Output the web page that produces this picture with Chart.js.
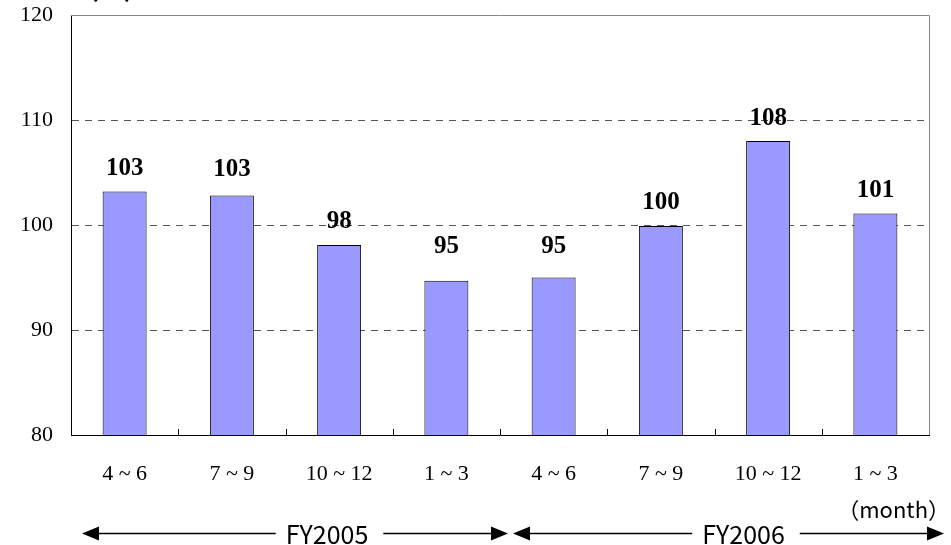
<!DOCTYPE html>
<html>
<head>
<meta charset="utf-8">
<script src="https://cdn.jsdelivr.net/npm/chart.js@4"></script>
<style>
  html, body { margin: 0; padding: 0; background: #fff; }
  #wrap { width: 951px; height: 545px; }
</style>
</head>
<body>
<div id="wrap"><canvas id="chart"></canvas></div>
<script>
var quarters = ['4 ~ 6', '7 ~ 9', '10 ~ 12', '1 ~ 3', '4 ~ 6', '7 ~ 9', '10 ~ 12', '1 ~ 3'];
var values = [103.2, 102.8, 98.1, 94.7, 95.0, 99.9, 108.0, 101.1];
var valueLabels = ['103', '103', '98', '95', '95', '100', '108', '101'];
var fiscalYears = ['FY2005', 'FY2006'];
var unitLabel = '\uff08month\uff09';
var yTitle = '(%)';

var serif = '"Liberation Serif", "Times New Roman", serif';
var gothic = '"Noto Sans CJK JP", "Noto Sans", sans-serif';

// how far above each bar the value label sits
var labelLift = [23, 26, 23, 34, 31, 24, 22, 23];
// the year captions are not centred on their arrows
var captionShift = [32, 15];

var extras = {
    id: 'extras',
    afterDatasetsDraw: function(chart) {
        var ctx = chart.ctx;
        var area = chart.chartArea;
        var step = (area.right - area.left) / quarters.length;

        ctx.save();
        // top and right frame
        ctx.strokeStyle = '#888';
        ctx.lineWidth = 1;
        ctx.beginPath();
        ctx.moveTo(area.left, area.top + 0.5);
        ctx.lineTo(area.right + 0.5, area.top + 0.5);
        ctx.lineTo(area.right + 0.5, area.bottom);
        ctx.stroke();

        // little inner tick marks between categories
        ctx.strokeStyle = '#000';
        ctx.beginPath();
        for (var i = 1; i < quarters.length; i++) {
            var tx = Math.round(area.left + step * i) + 0.5;
            ctx.moveTo(tx, area.bottom);
            ctx.lineTo(tx, area.bottom - 6);
        }
        ctx.stroke();

        // value labels
        var meta = chart.getDatasetMeta(0);
        ctx.fillStyle = '#000';
        ctx.font = 'bold 25px ' + serif;
        ctx.textAlign = 'center';
        ctx.textBaseline = 'middle';
        meta.data.forEach(function(bar, k) {
            ctx.fillText(valueLabels[k], bar.x, bar.y - labelLift[k]);
        });

        // unit label at top, mostly cut off
        ctx.font = 'bold 26px ' + gothic;
        ctx.textAlign = 'left';
        ctx.textBaseline = 'alphabetic';
        ctx.fillText(yTitle, area.left + 18, -3);

        // fiscal year arrows
        var mid = area.left + step * 4;
        var spans = [[area.left + 11, mid + 8], [mid + 13, area.right + 15]];
        var ay = 533.5;
        ctx.font = '25px ' + gothic;
        ctx.textBaseline = 'middle';
        ctx.textAlign = 'center';
        spans.forEach(function(s, k) {
            var cx = (s[0] + s[1]) / 2 + captionShift[k];
            var half = ctx.measureText(fiscalYears[k]).width / 2;
            ctx.beginPath();
            ctx.moveTo(s[0] + 10, ay);
            ctx.lineTo(cx - half - 10, ay);
            ctx.moveTo(cx + half + 15, ay);
            ctx.lineTo(s[1] - 10, ay);
            ctx.lineWidth = 1.5;
            ctx.stroke();
            ctx.beginPath();
            ctx.moveTo(s[0], ay);
            ctx.lineTo(s[0] + 17, ay - 7);
            ctx.lineTo(s[0] + 17, ay + 7);
            ctx.closePath();
            ctx.moveTo(s[1], ay);
            ctx.lineTo(s[1] - 17, ay - 7);
            ctx.lineTo(s[1] - 17, ay + 7);
            ctx.closePath();
            ctx.fill();
            ctx.fillText(fiscalYears[k], cx, ay + 1);
        });

        ctx.font = '22px ' + gothic;
        ctx.textAlign = 'right';
        ctx.fillText(unitLabel, 950, 510);
        ctx.restore();
    }
};

const data = {
    labels: quarters,
    datasets: [{
        data: values,
        backgroundColor: '#9999FF',
        borderColor: '#000',
        borderWidth: 1,
        barPercentage: 0.41,
        categoryPercentage: 1
    }]
};

const config = {
    type: 'bar',
    data,
    options: {
        animation: false,
        responsive: true,
        maintainAspectRatio: false,
        layout: { padding: { left: 0, top: 15, right: 22, bottom: 0 } },
        plugins: {
            legend: { display: false },
            tooltip: { enabled: false }
        },
        scales: {
            x: {
                afterFit: function(s) { s.height = 110; s.paddingLeft = 0; s.paddingRight = 0; },
                grid: { display: false },
                border: { color: '#000', width: 1 },
                ticks: {
                    color: '#000',
                    padding: 18,
                    font: { family: serif, size: 22 }
                }
            },
            y: {
                min: 80,
                max: 120,
                afterFit: function(s) { s.width = 71; s.paddingTop = 0; s.paddingBottom = 0; },
                border: { color: '#000', width: 1, dash: [7, 6] },
                grid: {
                    drawTicks: false,
                    color: function(c) {
                        return (c.tick.value === 80 || c.tick.value === 120) ? 'rgba(0,0,0,0)' : '#555';
                    },
                    lineWidth: 1
                },
                ticks: {
                    stepSize: 10,
                    color: '#000',
                    padding: 18,
                    font: { family: serif, size: 22 }
                }
            }
        }
    },
    plugins: [extras]
};

new Chart(document.getElementById('chart'), config);
</script>
</body>
</html>
